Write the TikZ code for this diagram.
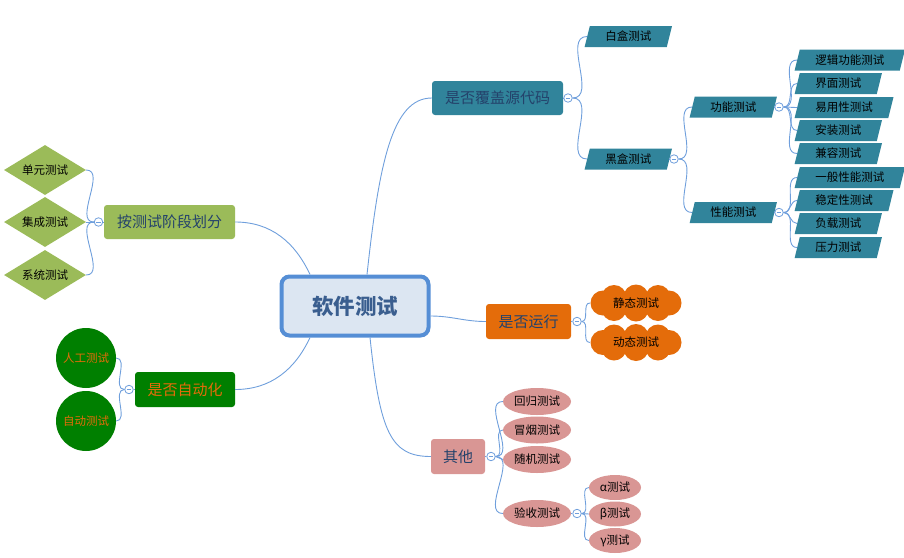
\documentclass[tikz,border=0pt]{standalone}
\usepackage{fontspec}
\setmainfont{Noto Sans CJK SC}
\usetikzlibrary{shapes.geometric}
\definecolor{mmteal}{HTML}{31849B}
\definecolor{mmolive}{HTML}{9BBB59}
\definecolor{mmgreen}{HTML}{007F00}
\definecolor{mmorange}{HTML}{E46C0A}
\definecolor{mmpink}{HTML}{D99694}
\definecolor{mmline}{HTML}{6F9FDC}
\definecolor{mmroot}{HTML}{DCE6F2}
\definecolor{mmrootedge}{HTML}{558ED5}
\definecolor{mmnavy}{HTML}{24426B}
\definecolor{mmroottext}{HTML}{3A5E8F}

\begin{document}
\begin{tikzpicture}[x=1pt,y=1pt,
  rootbox/.style={rectangle,rounded corners=8pt,minimum width=147pt,minimum height=59pt,
                  fill=mmroot,draw=mmrootedge,line width=4pt,text=mmroottext,
                  font=\fontsize{21.5}{24}\selectfont\bfseries},
  topic/.style={rectangle,rounded corners=3pt,minimum height=34pt,inner sep=0pt,
                text=mmnavy,font=\fontsize{15}{18}\selectfont},
  small/.style={font=\fontsize{11.5}{13}\selectfont,text=black,inner sep=0pt},
  stagebox/.style={small,diamond,aspect=1.64,fill=mmolive,minimum width=82pt,minimum height=50pt},
  autobox/.style={small,circle,fill=mmgreen,text=mmorange,minimum size=60pt},
  parbox/.style={small,trapezium,trapezium left angle=64,trapezium right angle=116,
                 trapezium stretches body,fill=mmteal,inner xsep=15.5pt,
                 minimum height=21pt,anchor=west},
  runbox/.style={small,rectangle,minimum width=92pt,minimum height=36pt},
  otherbox/.style={small,ellipse,fill=mmpink,minimum width=68pt,minimum height=27pt},
  greekbox/.style={small,ellipse,fill=mmpink,minimum width=52pt,minimum height=25pt},
  fold/.style={circle,draw=mmline,fill=white,line width=0.8pt,minimum size=8.5pt,inner sep=0pt,
               path picture={\draw[mmline,line width=0.7pt]
                 ([xshift=-2.2pt]path picture bounding box.center) --
                 ([xshift=2.2pt]path picture bounding box.center);}},
  link/.style={draw=mmline,line width=0.9pt}
]
\useasboundingbox (0,0) rectangle (904,-557);

% ---- Root ----------------------------------------------------
\node[rootbox] (root) at (355,-306) {软件测试};

% ---- Main branches -------------------------------------------
\node[topic,fill=mmolive,minimum width=131pt]  (stage) at (169.5,-222) {按测试阶段划分};
\node[topic,fill=mmgreen,text=mmorange,minimum width=100pt,minimum height=35pt] (auto) at (185,-389.5) {是否自动化};
\node[topic,fill=mmteal,minimum width=131pt]   (cover) at (497.5,-98) {是否覆盖源代码};
\node[topic,fill=mmorange,minimum width=85pt,minimum height=35pt] (run) at (528.5,-321.5) {是否运行};
\node[topic,fill=mmpink,minimum width=54pt,minimum height=35pt]   (other) at (458,-456.5) {其他};

\draw[link] ([xshift=-45pt]root.north) to[out=115,in=0] (stage.east);
\draw[link] ([xshift=-45pt]root.south) to[out=-115,in=0] (auto.east);
\draw[link] ([xshift=12pt]root.north) .. controls +(12,110) and +(-40,0) .. (cover.west);
\draw[link] ([yshift=-10pt]root.east) to[out=0,in=180] (run.west);
\draw[link] ([xshift=15pt]root.south) .. controls +(10,-95) and +(-40,0) .. (other.west);

% ---- Test stages ---------------------------------------------
\node[fold] (stageF) at (98.5,-222) {};
\node[stagebox] (unit)  at (45,-170) {单元测试};
\node[stagebox] (integ) at (45,-222) {集成测试};
\node[stagebox] (sys)   at (45,-275) {系统测试};
\draw[link] (stage.west) -- (stageF.east);
\foreach \n in {unit,integ,sys}
  \draw[link] (stageF.west) to[out=180,in=0] (\n.east);

% ---- Automation ----------------------------------------------
\node[fold] (autoF) at (129,-389.5) {};
\node[autobox] (manual) at (86,-358) {人工测试};
\node[autobox] (autot)  at (86,-421) {自动测试};
\draw[link] (auto.west) -- (autoF.east);
\foreach \n in {manual,autot}
  \draw[link] (autoF.west) to[out=180,in=0] (\n.east);

% ---- Source coverage -----------------------------------------
\node[fold] (coverF) at (568,-98) {};
\node[parbox] (white) at (587,-36.5) {白盒测试};
\node[parbox] (black) at (587,-159)  {黑盒测试};
\draw[link] (cover.east) -- (coverF.west);
\foreach \n in {white,black}
  \draw[link] (coverF.east) to[out=0,in=180] (\n.west);

\node[fold] (blackF) at (674,-159) {};
\node[parbox] (func) at (692,-107)   {功能测试};
\node[parbox] (perf) at (692,-212.5) {性能测试};
\draw[link] (black.east) -- (blackF.west);
\foreach \n in {func,perf}
  \draw[link] (blackF.east) to[out=0,in=180] (\n.west);

\node[fold] (funcF) at (779,-107) {};
\node[parbox] (logic)  at (797,-60)    {逻辑功能测试};
\node[parbox] (ui)     at (797,-83.5)  {界面测试};
\node[parbox] (usable) at (797,-107.5) {易用性测试};
\node[parbox] (inst)   at (797,-130.5) {安装测试};
\node[parbox] (compat) at (797,-153.5) {兼容测试};
\draw[link] (func.east) -- (funcF.west);
\foreach \n in {logic,ui,usable,inst,compat}
  \draw[link] (funcF.east) to[out=0,in=180] (\n.west);

\node[fold] (perfF) at (779,-212.5) {};
\node[parbox] (general) at (797,-177.5) {一般性能测试};
\node[parbox] (stable)  at (797,-200.5) {稳定性测试};
\node[parbox] (load)    at (797,-223.5) {负载测试};
\node[parbox] (stress)  at (797,-247.5) {压力测试};
\draw[link] (perf.east) -- (perfF.west);
\foreach \n in {general,stable,load,stress}
  \draw[link] (perfF.east) to[out=0,in=180] (\n.west);

% ---- Running (clouds) ----------------------------------------
\node[fold] (runF) at (577,-321.5) {};
\foreach \n/\y/\t in {static/-303/静态测试,dynamic/-342.5/动态测试}{
  \fill[mmorange] (636,\y) ellipse (38 and 12);
  \foreach \dx/\dy in {-22/5.5,0/6,22/5.5,-22/-5.5,0/-6,22/-5.5,-33/0,33/0}
    \fill[mmorange] (636+\dx,\y+\dy) circle (12.5);
  \node[runbox] (\n) at (636,\y) {\t};
}
\draw[link] (run.east) -- (runF.west);
\foreach \n in {static,dynamic}
  \draw[link] (runF.east) to[out=0,in=180] (\n.west);

% ---- Others --------------------------------------------------
\node[fold] (otherF) at (491,-456.5) {};
\node[otherbox] (regress) at (537,-401.5) {回归测试};
\node[otherbox] (smoke)   at (537,-430)   {冒烟测试};
\node[otherbox] (random)  at (537,-459.5) {随机测试};
\node[otherbox] (accept)  at (537,-513.5) {验收测试};
\draw[link] (other.east) -- (otherF.west);
\foreach \n in {regress,smoke,random,accept}
  \draw[link] (otherF.east) to[out=0,in=180] (\n.west);

\node[fold] (acceptF) at (577,-513.5) {};
\node[greekbox] (alpha) at (615,-487.5) {α测试};
\node[greekbox] (beta)  at (615,-514)   {β测试};
\node[greekbox] (gamma) at (615,-540.5) {γ测试};
\draw[link] (accept.east) -- (acceptF.west);
\foreach \n in {alpha,beta,gamma}
  \draw[link] (acceptF.east) to[out=0,in=180] (\n.west);

\end{tikzpicture}
\end{document}
